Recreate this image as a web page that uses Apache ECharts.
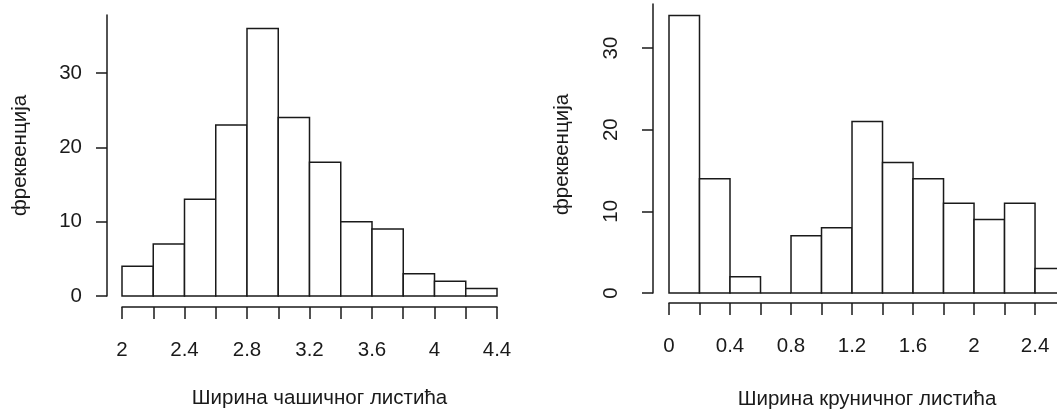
<!DOCTYPE html>
<html>
<head>
<meta charset="utf-8">
<script src="https://cdn.jsdelivr.net/npm/echarts@6/dist/echarts.min.js"></script>
<style>
  html, body { margin: 0; padding: 0; background: #fff; }
  #chart { width: 1057px; height: 415px; }
</style>
</head>
<body>
<div id="chart"></div>
<script>
// histogram bin edges and counts
const sepalEdges = [2, 2.2, 2.4, 2.6, 2.8, 3, 3.2, 3.4, 3.6, 3.8, 4, 4.2, 4.4];
const sepalCounts = [4, 7, 13, 23, 36, 24, 18, 10, 9, 3, 2, 1];
const petalEdges = [0, 0.2, 0.4, 0.6, 0.8, 1, 1.2, 1.4, 1.6, 1.8, 2, 2.2, 2.4, 2.6];
const petalCounts = [34, 14, 2, 0, 7, 8, 21, 16, 14, 11, 9, 11, 3];

const sepalTickLabels = [2, 2.4, 2.8, 3.2, 3.6, 4, 4.4];
const petalTickLabels = [0, 0.4, 0.8, 1.2, 1.6, 2, 2.4];
const freqTicks = [0, 10, 20, 30];

const sepalTitle = "Ширина чашичног листића";
const petalTitle = "Ширина круничног листића";
const yTitle = "фреквенција";

const FONT = "'Liberation Sans', Arial, sans-serif";
const FS = 20.5;
const INK = "#1a1a1a";

function toBins(edges, counts) {
  return counts.map((c, i) => [edges[i], edges[i + 1], c]);
}

function renderHist(params, api) {
  const p0 = api.coord([api.value(0), api.value(2)]);
  const p1 = api.coord([api.value(1), 0]);
  return {
    type: "rect",
    shape: { x: p0[0], y: p0[1], width: p1[0] - p0[0], height: p1[1] - p0[1] },
    style: { fill: "#fff", stroke: INK, lineWidth: 1.5 },
  };
}

function xAxisOpt(gridIndex, min, max, ticks, labels, name, offset, nameGap, namePad) {
  return {
    type: "value",
    gridIndex,
    min,
    max,
    interval: 0.2,
    offset,
    splitLine: { show: false },
    axisLine: { show: true, onZero: false, lineStyle: { color: INK, width: 1.5 } },
    axisTick: { show: true, length: 12, customValues: ticks, lineStyle: { color: INK, width: 1.5 } },
    axisLabel: {
      customValues: labels,
      margin: 33,
      color: INK,
      fontFamily: FONT,
      fontSize: FS,
      formatter: (v) => String(Math.round(v * 10) / 10),
    },
    name,
    nameLocation: "middle",
    nameGap,
    nameTextStyle: { color: INK, fontFamily: FONT, fontSize: FS, padding: namePad },
  };
}

function yAxisOpt(gridIndex, max, offset, rotate, labelMargin, nameGap, namePad) {
  return {
    type: "value",
    gridIndex,
    min: 0,
    max,
    interval: 10,
    offset,
    splitLine: { show: false },
    axisLine: { show: true, onZero: false, lineStyle: { color: INK, width: 1.5 } },
    axisTick: { show: true, length: 11, customValues: freqTicks, lineStyle: { color: INK, width: 1.5 } },
    axisLabel: {
      customValues: freqTicks,
      rotate,
      margin: labelMargin,
      color: INK,
      fontFamily: FONT,
      fontSize: FS,
    },
    name: yTitle,
    nameLocation: "middle",
    nameGap,
    nameTextStyle: { color: INK, fontFamily: FONT, fontSize: FS, padding: namePad },
  };
}

const chart = echarts.init(document.getElementById("chart"), null, { renderer: "canvas" });

chart.setOption({
  backgroundColor: "#fff",
  animation: false,
  grid: [
    { left: 122, right: 560, top: 15, bottom: 119 },
    { left: 669, right: 0, top: 4, bottom: 122 },
  ],
  xAxis: [
    xAxisOpt(0, 2, 4.4, sepalEdges, sepalTickLabels, sepalTitle, 11, 81, [0, 0, 0, 20]),
    xAxisOpt(1, 0, 2.544, petalEdges, petalTickLabels, petalTitle, 10, 86, [0, 0, 0, 8]),
  ],
  yAxis: [
    yAxisOpt(0, 37.8, 15, 0, 25, 76, [0, 0, 0, 0]),
    yAxisOpt(1, 35.4, 16, 90, 31, 80, [0, 12, 0, 0]),
  ],
  series: [
    {
      type: "custom",
      xAxisIndex: 0,
      yAxisIndex: 0,
      renderItem: renderHist,
      encode: { x: [0, 1], y: 2 },
      data: toBins(sepalEdges, sepalCounts),
    },
    {
      type: "custom",
      xAxisIndex: 1,
      yAxisIndex: 1,
      renderItem: renderHist,
      encode: { x: [0, 1], y: 2 },
      data: toBins(petalEdges, petalCounts),
    },
  ],
});
</script>
</body>
</html>
